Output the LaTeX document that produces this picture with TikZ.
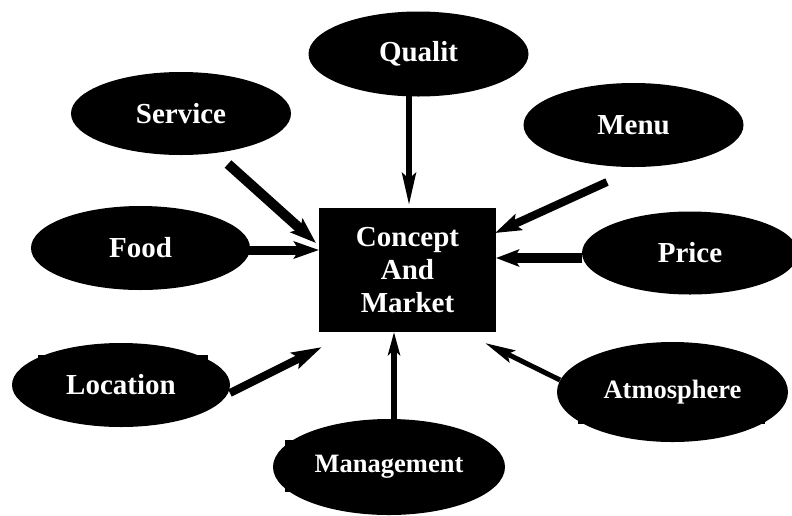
\documentclass[tikz,border=0pt]{standalone}
\usepackage{fontspec}
\setmainfont{Liberation Serif}
\usetikzlibrary{shapes.geometric,arrows.meta}
\begin{document}
\begin{tikzpicture}[x=1pt,y=-1pt,
  oval/.style={ellipse,fill=black,text=white,inner sep=0pt,font=\bfseries\fontsize{29}{33}\selectfont},
  smalloval/.style={oval,font=\bfseries\fontsize{26.5}{30}\selectfont},
  hub/.style={rectangle,fill=black,text=white,inner sep=0pt,minimum width=177pt,minimum height=124pt,align=center,font=\bfseries\fontsize{29}{33}\selectfont},
  flow/.style={draw=black,line width=#1},
  headsize/.style 2 args={-{Stealth[length=#1,width=#2,inset=5pt]}},
  peek/.style={fill=black}]
\useasboundingbox (0,0) rectangle (792,515);
\fill[white] (0,0) rectangle (792,515);
% small frames peeking out behind some ovals
\fill[peek] (38,355) rectangle (208,400);
\fill[peek] (285,440) rectangle (470,492);
\fill[peek] (578,372) rectangle (765,424);
% nodes
\node[hub] (hub) at (407.5,270) {Concept\\And\\Market};
\node[oval,minimum width=220pt,minimum height=85pt] (qual) at (418.5,54) {Qualit};
\node[oval,minimum width=220pt,minimum height=83pt] (serv) at (181,113.5) {Service};
\node[oval,minimum width=220pt,minimum height=84pt] (menu) at (633.5,125) {Menu};
\node[oval,minimum width=219pt,minimum height=84pt] (food) at (140.5,248) {Food};
\node[oval,minimum width=216pt,minimum height=83pt] (price) at (690,253) {Price};
\node[oval,minimum width=218pt,minimum height=84pt] (loc) at (121,385) {Location};
\node[smalloval,minimum width=232pt,minimum height=96pt] (mgmt) at (389,467) {Management};
\node[smalloval,minimum width=231pt,minimum height=100pt] (atm) at (672.5,392) {Atmosphere};
% connector end points
\coordinate (qs) at (409,96);   \coordinate (qe) at (409,206);
\coordinate (ss) at (228,164);  \coordinate (se) at (316,243);
\coordinate (ms) at (607,182);  \coordinate (me) at (495,233);
\coordinate (fs) at (248,250);  \coordinate (fe) at (319,250);
\coordinate (ps) at (582,258);  \coordinate (pe) at (496,258);
\coordinate (ls) at (230,393);  \coordinate (le) at (322,347);
\coordinate (gs) at (394,420);  \coordinate (ge) at (394,332);
\coordinate (as) at (560,380);  \coordinate (ae) at (485,343);
% connectors
\draw[flow=6.5pt,headsize={32pt}{13pt}] (qs) -- (qe);
\draw[flow=10pt,headsize={26pt}{18pt}] (ss) -- (se);
\draw[flow=8pt,headsize={26pt}{17pt}] (ms) -- (me);
\draw[flow=9pt,headsize={25pt}{17pt}] (fs) -- (fe);
\draw[flow=10pt,headsize={23pt}{17pt}] (ps) -- (pe);
\draw[flow=8pt,headsize={30pt}{17pt}] (ls) -- (le);
\draw[flow=6.5pt,headsize={23pt}{12pt}] (gs) -- (ge);
\draw[flow=5pt,headsize={30pt}{13pt}] (as) -- (ae);
\end{tikzpicture}
\end{document}
